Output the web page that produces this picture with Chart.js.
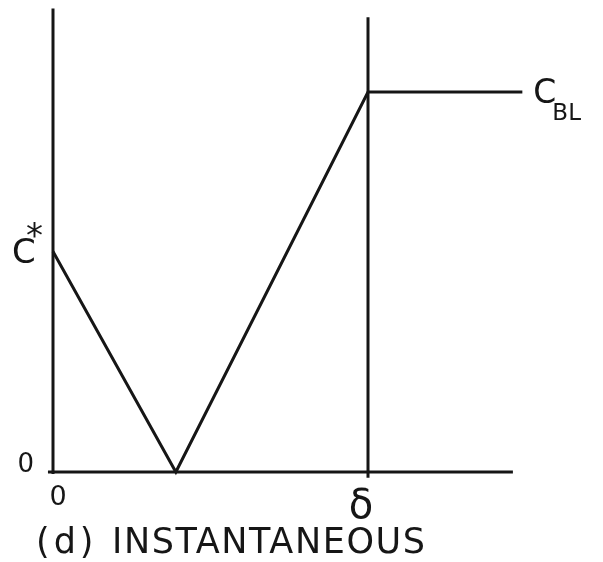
<!DOCTYPE html>
<html>
<head>
<meta charset="utf-8">
<script src="https://cdn.jsdelivr.net/npm/chart.js@4.4.1/dist/chart.umd.min.js"></script>
<style>
  html, body { margin: 0; padding: 0; background: #ffffff; }
  #wrap { width: 603px; height: 562px; }
</style>
</head>
<body>
<div id="wrap"><canvas id="c" width="603" height="562"></canvas></div>
<script>
// Concentration profile across the boundary layer (distance normalised by delta,
// concentration normalised by C_BL)
const profileX = [0, 0.39, 1, 1.49];
const profileY = [0.58, 0, 1, 1];

// Marked positions on the axes and their labels
const xTickValues = [0, 1];
const xTickLabels = ['0', 'δ'];
const yTickValues = [0, 0.58];
const yTickLabels = ['0', 'C'];

const INK = '#161616';

// Axis frame segments (drawn as plain line datasets on the same scales)
const frame = [
  { x: [0, 0], y: [-0.005, 1.22] },          // concentration axis
  { x: [-0.016, 1.46], y: [0, 0] },          // distance axis
  { x: [1, 1], y: [-0.015, 1.197] }          // edge of boundary layer
];

function seg(xs, ys) {
  return xs.map((v, i) => ({ x: v, y: ys[i] }));
}

const datasets = frame.map(f => ({
  data: seg(f.x, f.y),
  borderColor: INK,
  borderWidth: 3,
  pointRadius: 0,
  showLine: true,
  clip: false,
  tension: 0
}));
datasets.push({
  data: seg(profileX, profileY),
  borderColor: INK,
  borderWidth: 3,
  pointRadius: 0,
  showLine: true,
  clip: false,
  tension: 0
});

const labelPlugin = {
  id: 'sketchLabels',
  afterDraw(chart) {
    const ctx = chart.ctx;
    const xs = chart.scales.x, ys = chart.scales.y;
    const x0 = xs.getPixelForValue(0);
    const y0 = ys.getPixelForValue(0);
    ctx.save();
    ctx.fillStyle = INK;
    ctx.textBaseline = 'alphabetic';

    // y-axis labels
    ctx.font = '26px "DejaVu Sans"';
    ctx.textAlign = 'right';
    ctx.fillText(yTickLabels[0], x0 - 19, ys.getPixelForValue(yTickValues[0]));
    const yc = ys.getPixelForValue(yTickValues[1]);
    ctx.font = '34px "DejaVu Sans"';
    ctx.textAlign = 'left';
    ctx.fillText(yTickLabels[1], x0 - 41, yc + 11);
    ctx.font = '34px "DejaVu Sans"';
    ctx.fillText('*', x0 - 27, yc - 5);

    // x-axis labels
    ctx.textAlign = 'center';
    ctx.font = '27px "DejaVu Sans"';
    ctx.fillText(xTickLabels[0], xs.getPixelForValue(xTickValues[0]) + 5, y0 + 33);
    ctx.font = '40px "DejaVu Sans"';
    ctx.fillText(xTickLabels[1], xs.getPixelForValue(xTickValues[1]) - 7, y0 + 46);

    // bulk concentration label at the end of the plateau
    const last = profileX.length - 1;
    const ex = xs.getPixelForValue(profileX[last]);
    const ey = ys.getPixelForValue(profileY[last]);
    ctx.textAlign = 'left';
    ctx.font = '33px "DejaVu Sans"';
    ctx.fillText('C', ex + 11, ey + 11);
    ctx.font = '23px "DejaVu Sans"';
    ctx.fillText('BL', ex + 30, ey + 28);

    // caption
    ctx.font = '35px "DejaVu Sans"';
    ctx.letterSpacing = '4px';
    ctx.fillText('(d)', 36, 553);
    ctx.letterSpacing = '1.6px';
    ctx.fillText('INSTANTANEOUS', 112, 553);
    ctx.restore();
  }
};

new Chart(document.getElementById('c'), {
  type: 'scatter',
  data: { datasets },
  options: {
    responsive: false,
    animation: false,
    events: [],
    layout: { padding: { left: 21.5, right: 14.5, top: 4.6, bottom: 52 } },
    plugins: { legend: { display: false }, tooltip: { enabled: false } },
    scales: {
      x: { type: 'linear', display: false, min: -0.1, max: 1.7 },
      y: { type: 'linear', display: false, min: -0.1, max: 1.23 }
    }
  },
  plugins: [labelPlugin]
});
</script>
</body>
</html>
